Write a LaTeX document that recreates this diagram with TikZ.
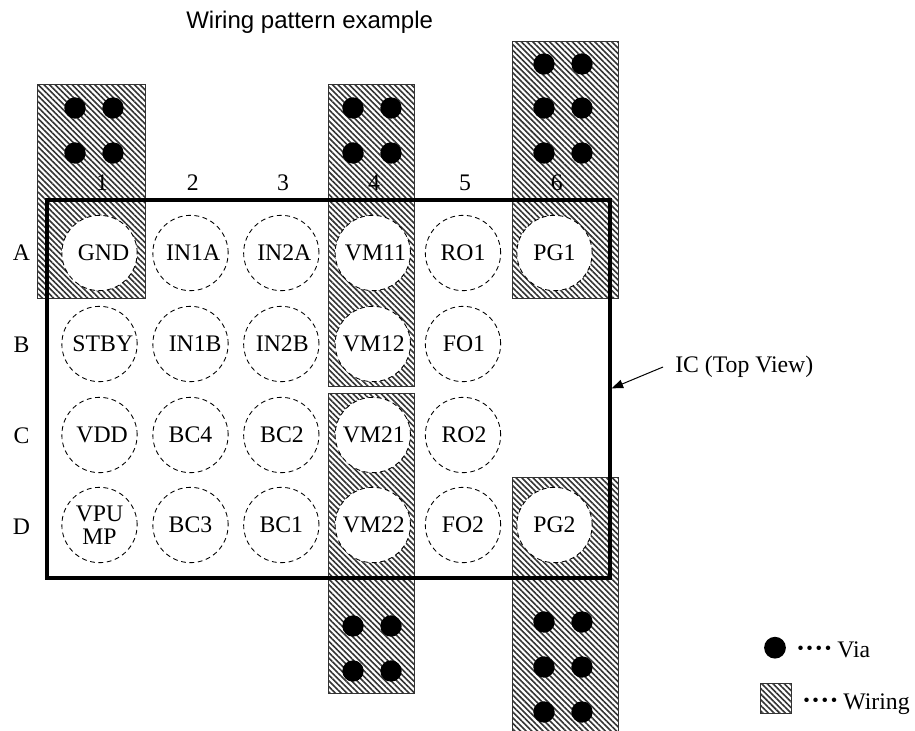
\documentclass[tikz,border=0pt]{standalone}
\usepackage{fontspec}
\setmainfont{Liberation Serif}
\newfontfamily\titlefont{Liberation Sans}
\usetikzlibrary{patterns.meta,arrows.meta}
\newcommand\legdot{\raisebox{2.2pt}{\fontsize{14}{14}\selectfont •}}
\newcommand\legdots{\legdot\kern2pt\legdot\kern2pt\legdot\kern2pt\legdot\kern4.5pt}
\tikzset{
  x=0.75pt,y=-0.75pt,
  wiring/.style={draw=black!80,line width=0.75pt,inner sep=0,outer sep=0,anchor=north west,
    pattern={Lines[angle=-45,distance=3pt,line width=1.2pt]},pattern color=black!80},
  viahole/.style={circle,fill=black,inner sep=0,minimum size=16pt},
  pin/.style={circle,draw,line width=0.65pt,dash pattern=on 3.6pt off 2.7pt,fill=white,inner sep=0,minimum size=56.5pt,font=\fontsize{17.8}{17.6}\selectfont,align=center},
  lab/.style={inner sep=0,font=\fontsize{17.8}{20}\selectfont},
  icbox/.style={draw,line width=3pt,inner sep=0,outer sep=0,minimum width=422pt,minimum height=283.3pt},
}
\begin{document}
\begin{tikzpicture}
\useasboundingbox (0,0) rectangle (915,731);
\fill[white] (0,0) rectangle (915,731);
% wiring
\node[wiring,minimum width=80.7pt,minimum height=160pt] (w1) at (37.7,85) {};
\node[wiring,minimum width=65pt,minimum height=226.3pt] (w2) at (328.3,85) {};
\node[wiring,minimum width=65pt,minimum height=225.5pt] (w3) at (328.3,393.3) {};
\node[wiring,minimum width=80pt,minimum height=192.2pt] (w4) at (512.3,42) {};
\node[wiring,minimum width=80pt,minimum height=200pt] (w5) at (512.3,477.7) {};
% vias
\foreach \n/\x/\y in {a/75/108,b/113/108,c/75/153,d/113/153,
  e/353/108,f/391/108,g/353/153,h/391/153,
  i/544/64,j/582/64,k/544/108,l/582/108,m/544/153,n/582/153,
  o/353/626,p/391/626,q/353/671,r/391/671,
  s/544/622,t/582/622,u/544/667,v/582/667,w/544/712,z/582/712}
  \node[viahole] (via\n) at (\x,\y) {};
% pins: name / x / y / text shift (pt, twice the wanted shift) / text
\foreach \n/\x/\y/\s/\t in {
  a1/99.5/253/6/GND,a2/190.5/253/4/IN1A,a3/281.3/253/4.5/IN2A,a4/372.8/253/4/VM11,a5/463/253/0/RO1,a6/554.5/253/0/PG1,
  b1/99.5/344/5/STBY,b2/190.5/344/7/IN1B,b3/281.3/344/1.5/IN2B,b4/372.8/344/1.5/VM12,b5/463/344/1.5/FO1,
  c1/99.5/435/4/VDD,c2/190.5/435/0/BC4,c3/281.3/435/1/BC2,c4/372.8/435/1.5/VM21,c5/463/435/1.5/RO2,
  d1/99.5/525/0/{VPU\\MP},d2/190.5/525/0/BC3,d3/281.3/525/0/BC1,d4/372.8/525/1.5/VM22,d5/463/525/0/FO2,d6/554.5/525/0/PG2}
  \node[pin] (pin\n) at (\x,\y) {\hspace*{\s pt}\t};
% IC
\node[icbox] (ic) at (328.6,389.1) {};
% labels
\foreach \n/\x in {1/102,2/192.7,3/283,4/374,5/465,6/556.7}
  \node[lab] (col\n) at (\x,183) {\n};
\foreach \n/\y in {A/253,B/345,C/436,D/527}
  \node[lab] (row\n) at (21.5,\y) {\n};
\node[inner sep=0,font=\titlefont\fontsize{18}{20}\selectfont,anchor=west] (title) at (186,22) {Wiring pattern example};
\node[lab,anchor=west] (iclabel) at (675,367) {IC (Top View)};
\draw[line width=0.75pt,-{Triangle[length=8.5pt,width=6.5pt]},shorten >=1.5pt] (iclabel.west)+(-12,0) coordinate (icfrom) -- (ic.east);
% legend
\node[viahole,minimum size=16.3pt] (legvia) at (775,647.7) {};
\node[lab,anchor=base west] (legviat) at (797,657.7) {\legdots Via};
\node[wiring,minimum width=23.2pt,minimum height=23pt] (legwire) at (760.7,683.3) {};
\node[lab,anchor=base west] (legwiret) at (803,709) {\legdots Wiring};
\end{tikzpicture}
\end{document}
